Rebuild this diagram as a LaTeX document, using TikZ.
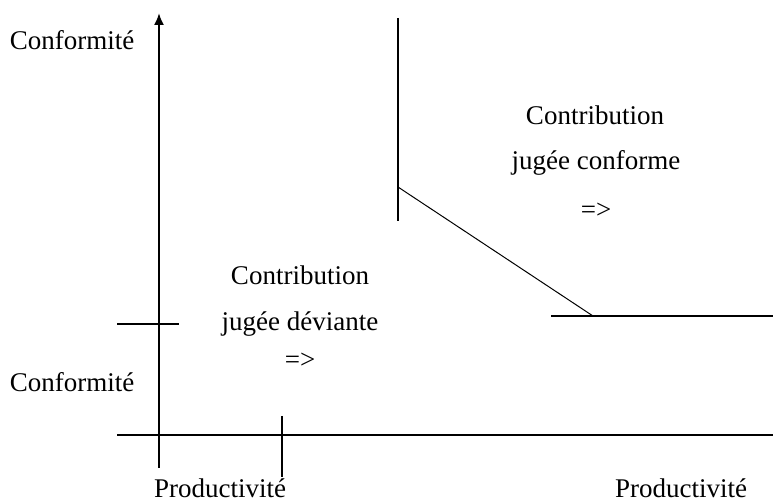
\documentclass[tikz,border=0pt]{standalone}
\usepackage{fontspec}
\setmainfont{Liberation Serif}
\usepackage{tikz}
\usetikzlibrary{arrows.meta}

\begin{document}
\begin{tikzpicture}
  [x=0.5pt, y=-0.5pt,
   label/.style={inner sep=0pt, font=\fontsize{13.5}{16}\selectfont},
   axis/.style={line width=1pt},
   frontier/.style={line width=0.5pt}]
  \useasboundingbox (0, 0) rectangle (773, 502);
  \coordinate (yaxisbottom) at (159, 468);
  \coordinate (yaxistop) at (159, 13);
  \coordinate (xaxisleft) at (117, 435);
  \coordinate (xaxisright) at (773, 435);
  \coordinate (ytickleft) at (117, 324);
  \coordinate (ytickright) at (179, 324);
  \coordinate (xticktop) at (282, 416);
  \coordinate (xtickbottom) at (282, 477);
  \coordinate (walltop) at (398, 18);
  \coordinate (wallbottom) at (398, 221);
  \coordinate (slopetop) at (398, 187);
  \coordinate (slopebottom) at (593, 316);
  \coordinate (floorleft) at (551, 316);
  \coordinate (floorright) at (773, 316);
  \node (conf1) [label] at (72, 40) {Conformité};
  \node (conf2) [label] at (72, 382) {Conformité};
  \node (prod1) [label] at (220, 488) {Productivité};
  \node (prod2) [label] at (681, 488) {Productivité};
  \node (dev1) [label] at (300, 275) {Contribution};
  \node (dev2) [label] at (300, 324) {jugée déviante};
  \node (dev3) [label] at (300, 361) {=>};
  \node (conforme1) [label] at (595, 115) {Contribution};
  \node (conforme2) [label] at (596, 163) {jugée conforme};
  \node (conforme3) [label] at (596, 211) {=>};
  \draw [axis, -{Latex[length=6pt, width=5pt]}] (yaxisbottom) to (yaxistop);
  \draw [axis] (xaxisleft) to (xaxisright);
  \draw [axis] (ytickleft) to (ytickright);
  \draw [axis] (xticktop) to (xtickbottom);
  \draw [axis] (walltop) to (wallbottom);
  \draw [frontier] (slopetop) to (slopebottom);
  \draw [axis] (floorleft) to (floorright);
\end{tikzpicture}
\end{document}
